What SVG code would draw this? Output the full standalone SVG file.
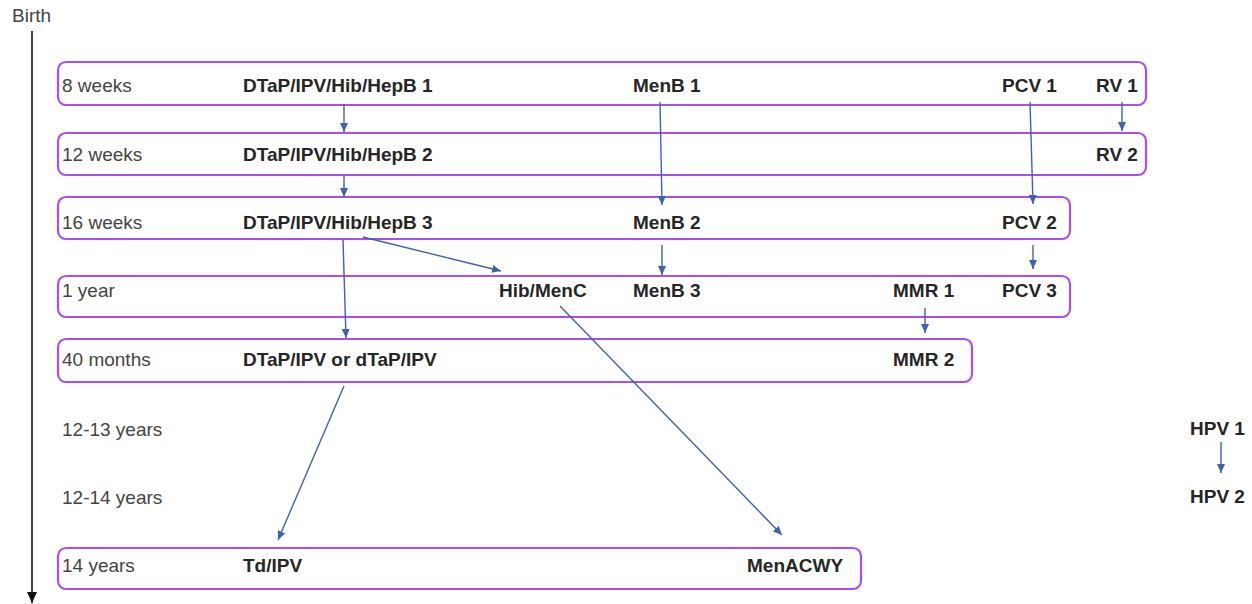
<svg xmlns="http://www.w3.org/2000/svg" width="1252" height="604" viewBox="0 0 1252 604">
<style>
.box{fill:#fff;stroke:#a94ef5;stroke-width:2.2}
.lbl{font-family:"Liberation Sans",Arial,sans-serif;font-size:19px;fill:#444}
.vac{font-family:"Liberation Sans",Arial,sans-serif;font-size:19px;font-weight:bold;fill:#262626}
.con{stroke:#3f62ad;stroke-width:1.4;fill:none;marker-end:url(#ah)}
</style>
<defs>
<marker id="ah" markerUnits="userSpaceOnUse" markerWidth="10" markerHeight="8" refX="9" refY="4" orient="auto">
<path d="M0,0 L9,4 L0,8 Z" fill="#3f62ad"/>
</marker>
<marker id="ahk" markerUnits="userSpaceOnUse" markerWidth="12" markerHeight="10" refX="11" refY="5" orient="auto">
<path d="M0,0 L11,5 L0,10 Z" fill="#111"/>
</marker>
</defs>
<rect width="1252" height="604" fill="#fff"/>
<g id="timeline">
<text class="lbl" x="12" y="22">Birth</text>
<line x1="32" y1="31" x2="32" y2="603" stroke="#111" stroke-width="1.6" marker-end="url(#ahk)"/>
</g>
<g id="row-8weeks">
<rect class="box" x="58" y="62" width="1088" height="43" rx="8"/>
<text class="lbl" x="62" y="92">8 weeks</text>
<text class="vac" x="243" y="92">DTaP/IPV/Hib/HepB 1</text>
<text class="vac" x="633" y="92">MenB 1</text>
<text class="vac" x="1002" y="92">PCV 1</text>
<text class="vac" x="1096" y="92">RV 1</text>
</g>
<g id="row-12weeks">
<rect class="box" x="58" y="133" width="1088" height="42" rx="8"/>
<text class="lbl" x="62" y="161">12 weeks</text>
<text class="vac" x="243" y="161">DTaP/IPV/Hib/HepB 2</text>
<text class="vac" x="1096" y="161">RV 2</text>
</g>
<g id="row-16weeks">
<rect class="box" x="58" y="197" width="1012" height="42" rx="8"/>
<text class="lbl" x="62" y="229">16 weeks</text>
<text class="vac" x="243" y="229">DTaP/IPV/Hib/HepB 3</text>
<text class="vac" x="633" y="229">MenB 2</text>
<text class="vac" x="1002" y="229">PCV 2</text>
</g>
<g id="row-1year">
<rect class="box" x="58" y="276" width="1012" height="41" rx="8"/>
<text class="lbl" x="62" y="297">1 year</text>
<text class="vac" x="499" y="297">Hib/MenC</text>
<text class="vac" x="633" y="297">MenB 3</text>
<text class="vac" x="893" y="297">MMR 1</text>
<text class="vac" x="1002" y="297">PCV 3</text>
</g>
<g id="row-40months">
<rect class="box" x="58" y="339" width="914" height="43" rx="8"/>
<text class="lbl" x="62" y="366">40 months</text>
<text class="vac" x="243" y="366">DTaP/IPV or dTaP/IPV</text>
<text class="vac" x="893" y="366">MMR 2</text>
</g>
<g id="row-12-13years">
<text class="lbl" x="62" y="436">12-13 years</text>
<text class="vac" x="1190" y="435">HPV 1</text>
</g>
<g id="row-12-14years">
<text class="lbl" x="62" y="504">12-14 years</text>
<text class="vac" x="1190" y="503">HPV 2</text>
</g>
<g id="row-14years">
<rect class="box" x="58" y="548" width="803" height="41" rx="8"/>
<text class="lbl" x="62" y="572">14 years</text>
<text class="vac" x="243" y="572">Td/IPV</text>
<text class="vac" x="747" y="572">MenACWY</text>
</g>
<g id="connectors">
<line class="con" x1="344" y1="104" x2="344" y2="132"/>
<line class="con" x1="344" y1="175" x2="344" y2="197"/>
<line class="con" x1="343" y1="240" x2="346" y2="338"/>
<line class="con" x1="363" y1="237" x2="501" y2="271"/>
<line class="con" x1="660" y1="102" x2="662" y2="205"/>
<line class="con" x1="662" y1="245" x2="662" y2="275"/>
<line class="con" x1="1030" y1="102" x2="1033" y2="204"/>
<line class="con" x1="1122" y1="102" x2="1122" y2="131"/>
<line class="con" x1="1033" y1="245" x2="1033" y2="269"/>
<line class="con" x1="925" y1="308" x2="925" y2="333"/>
<line class="con" x1="560" y1="306" x2="782" y2="535"/>
<line class="con" x1="344" y1="386" x2="278" y2="540"/>
<line class="con" x1="1221" y1="442" x2="1221" y2="473"/>
</g>
</svg>
